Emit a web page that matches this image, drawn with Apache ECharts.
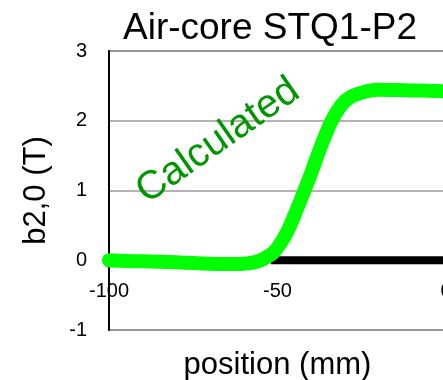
<!DOCTYPE html>
<html>
<head>
<meta charset="utf-8">
<script src="https://cdn.jsdelivr.net/npm/echarts@6/dist/echarts.min.js"></script>
<style>
  html, body { margin: 0; padding: 0; background: #fff; }
  #chart { width: 443px; height: 380px; }
</style>
</head>
<body>
<div id="chart"></div>
<script>
// Longitudinal profile of the b2,0 field component along the magnet axis
const positions = [-100, -95, -90, -85, -80, -75, -70, -65, -60, -57, -55, -53, -51, -49, -47, -45.5, -44, -42, -40, -38, -36, -34, -32, -30, -28, -26, -23, -20, -15, -10, -5, 0];
const calculated = [0.00, -0.01, -0.015, -0.02, -0.03, -0.04, -0.05, -0.055, -0.05, -0.03, 0.0, 0.05, 0.12, 0.25, 0.42, 0.58, 0.76, 1.0, 1.25, 1.52, 1.77, 1.99, 2.16, 2.28, 2.35, 2.39, 2.43, 2.445, 2.44, 2.435, 2.43, 2.42];

const measuredPositions = [-52, -40, -30, -20, -10, 0];
const measured = [0, 0, 0, 0, 0, 0];

const xTicks = { min: -100, max: 0, interval: 50 };
const yTicks = { min: -1, max: 3, interval: 1 };

const FONT = 'Liberation Sans, Arial, sans-serif';

// plot box
const GRID = { left: 109, top: 51, bottom: 50, right: -3 };
const plotHeight = 380 - GRID.top - GRID.bottom;
// the x axis sits where y = 0 lies inside the plot box
const xAxisLift = plotHeight * (0 - yTicks.min) / (yTicks.max - yTicks.min);

const chart = echarts.init(document.getElementById('chart'), null, { renderer: 'canvas' });

chart.setOption({
  animation: false,
  backgroundColor: '#ffffff',
  title: {
    text: 'Air-core STQ1-P2',
    left: 265,
    top: 5,
    textAlign: 'center',
    textStyle: { fontFamily: FONT, fontSize: 37, fontWeight: 'normal', color: '#000' }
  },
  grid: {
    left: GRID.left, top: GRID.top, bottom: GRID.bottom, right: GRID.right,
    containLabel: false,
    outerBoundsMode: 'none',
    show: true, borderColor: '#8c8c8c', borderWidth: 2
  },
  xAxis: {
    type: 'value',
    min: xTicks.min, max: xTicks.max, interval: xTicks.interval,
    offset: -xAxisLift,
    name: 'position (mm)',
    nameLocation: 'middle',
    nameGap: 90,
    nameTextStyle: { fontFamily: FONT, fontSize: 31, color: '#000' },
    axisLine: { show: true, onZero: false, lineStyle: { color: '#000', width: 1 } },
    axisTick: { show: false },
    splitLine: { show: false },
    axisLabel: { fontFamily: FONT, fontSize: 20, color: '#000', margin: 21, hideOverlap: false }
  },
  yAxis: {
    type: 'value',
    min: yTicks.min, max: yTicks.max, interval: yTicks.interval,
    name: 'b2,0 (T)',
    nameLocation: 'middle',
    nameGap: 57,
    nameTextStyle: { fontFamily: FONT, fontSize: 31, color: '#000' },
    axisLine: { show: true, onZero: false, lineStyle: { color: '#000', width: 2 } },
    axisTick: { show: false },
    splitLine: { show: true, lineStyle: { color: '#9a9a9a', width: 1.5 } },
    axisLabel: { fontFamily: FONT, fontSize: 20, color: '#000', margin: 22 }
  },
  series: [
    {
      name: 'Measured',
      type: 'line',
      data: measuredPositions.map((x, i) => [x, measured[i]]),
      showSymbol: false,
      lineStyle: { color: '#000', width: 8, cap: 'butt' },
      z: 2
    },
    {
      name: 'Calculated',
      type: 'line',
      data: positions.map((x, i) => [x, calculated[i]]),
      smooth: 0.3,
      showSymbol: false,
      lineStyle: { color: '#00ff00', width: 14, cap: 'round', join: 'round' },
      z: 3
    }
  ],
  graphic: [
    {
      type: 'text',
      x: 218, y: 141,
      rotation: 35 * Math.PI / 180,
      style: {
        text: 'Calculated',
        fontFamily: FONT, fontSize: 40,
        fill: '#009600',
        align: 'center', verticalAlign: 'middle'
      },
      z: 10
    }
  ]
});
</script>
</body>
</html>
